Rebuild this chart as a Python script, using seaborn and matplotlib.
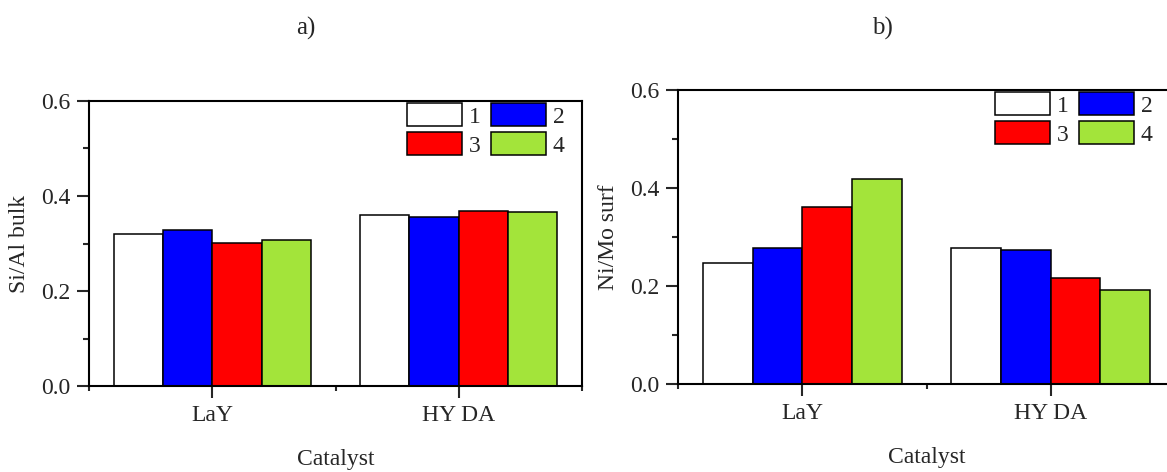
import pandas as pd
import matplotlib.pyplot as plt
import seaborn as sns
from matplotlib.patches import Patch
from matplotlib.ticker import MultipleLocator

# --- DATA ---
catalysts = ['LaY', 'HY DA']
samples = ['1', '2', '3', '4']
si_al_bulk = {'1': [0.319, 0.360], '2': [0.328, 0.355], '3': [0.302, 0.368], '4': [0.308, 0.366]}
ni_mo_surf = {'1': [0.246, 0.277], '2': [0.277, 0.273], '3': [0.361, 0.216], '4': [0.418, 0.191]}
colors = ['#FFFFFF', '#0000FF', '#FF0000', '#A3E43A']
panel_titles = ['a)', 'b)']
ylabels = ['Si/Al bulk', 'Ni/Mo surf']


def to_long(values):
    rows = []
    for s in samples:
        for c, v in zip(catalysts, values[s]):
            rows.append({'Catalyst': c, 'Sample': s, 'Value': v})
    return pd.DataFrame(rows)


sns.set_style('ticks')
plt.rcParams['font.family'] = ['Liberation Serif', 'DejaVu Serif']
plt.rcParams['axes.linewidth'] = 1.5

fig = plt.figure(figsize=(11.67, 4.72), dpi=100)
W, H = 1167, 472
# axes boxes in pixels: left, right, top, bottom
boxes = [(89, 582, 101, 386), (678, 1175, 90, 384)]
legend_right = [567, 1155]
title_pos = [(306, 28), (882, 28)]
FS = 17

for i, (data, ylab) in enumerate(zip([si_al_bulk, ni_mo_surf], ylabels)):
    l, r, t, b = boxes[i]
    ax = fig.add_axes([l / W, 1 - b / H, (r - l) / W, (b - t) / H])
    df = to_long(data)
    sns.barplot(data=df, x='Catalyst', y='Value', hue='Sample', order=catalysts,
                hue_order=samples, palette=colors, saturation=1, width=0.8,
                edgecolor='black', linewidth=1.1, legend=False, ax=ax)
    ax.set_xlim(-0.5, 1.5)
    ax.set_ylim(0, 0.6)
    ax.yaxis.set_major_locator(MultipleLocator(0.2))
    ax.yaxis.set_minor_locator(MultipleLocator(0.1))
    ax.xaxis.set_minor_locator(MultipleLocator(0.5))
    ax.yaxis.set_major_formatter(plt.FormatStrFormatter('%.1f'))
    ax.tick_params(which='major', direction='out', length=8.5, width=1.5, labelsize=FS)
    ax.tick_params(which='minor', direction='out', length=4, width=1.5)
    ax.xaxis.set_tick_params(which='minor', length=3.5)
    ax.xaxis.set_tick_params(which='major', pad=5)
    ax.yaxis.set_tick_params(which='major', pad=5)
    for sp in ax.spines.values():
        sp.set_visible(True)
        sp.set_linewidth(1.5)
        sp.set_color('black')
    ax.set_xlabel('Catalyst', fontsize=FS, labelpad=17)
    ax.set_ylabel(ylab, fontsize=FS, labelpad=8)

    handles = [Patch(facecolor=colors[k], edgecolor='black', linewidth=1.1) for k in [0, 2, 1, 3]]
    labels = [samples[k] for k in [0, 2, 1, 3]]
    ax.legend(handles, labels, ncol=2, loc='upper right', frameon=False, fontsize=FS,
              handlelength=2.3, handleheight=1.1, labelspacing=0.2, columnspacing=0.45,
              handletextpad=0.3, borderaxespad=0, borderpad=0.1,
              bbox_to_anchor=((legend_right[i] - l) / (r - l), 1.0))

    tx, ty = title_pos[i]
    fig.text(tx / W, 1 - ty / H, panel_titles[i], fontsize=18, ha='center', va='center')

fig.savefig('out.png', dpi=100)
